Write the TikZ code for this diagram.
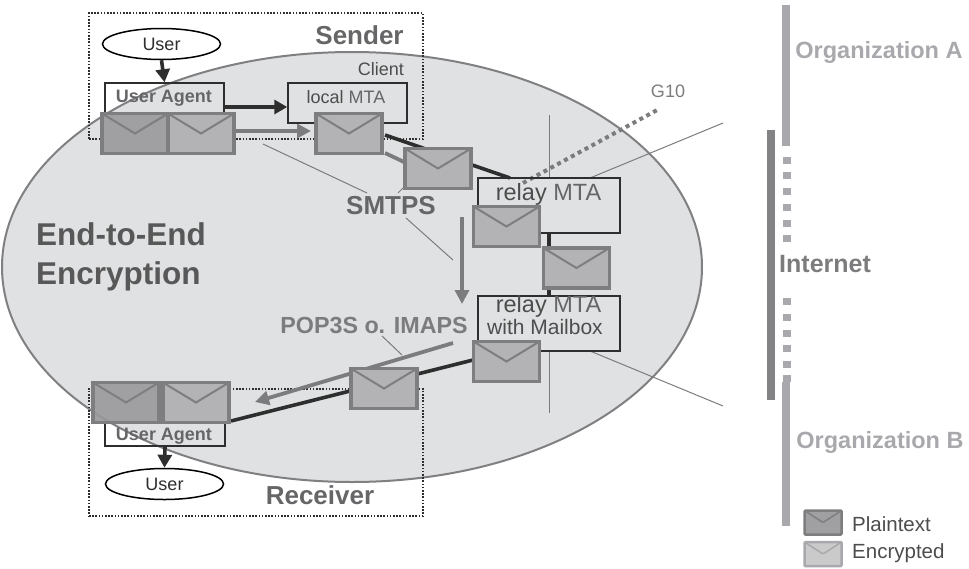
\documentclass[tikz,border=0pt]{standalone}
\usepackage{fontspec}
\setmainfont{Liberation Sans}
\usetikzlibrary{arrows.meta,shapes.geometric}
\pgfdeclarelayer{back}
\pgfdeclarelayer{wires}
\pgfsetlayers{back,wires,main}
\definecolor{ell}{HTML}{E0E1E2}
\definecolor{ellb}{HTML}{808082}
\definecolor{encf}{HTML}{B3B3B5}
\definecolor{plainf}{HTML}{A0A0A2}
\definecolor{envb}{HTML}{7E7E80}
\definecolor{dark}{HTML}{2E2E2E}
\definecolor{midg}{HTML}{7C7C7E}
\definecolor{orgc}{HTML}{A9A9AD}
\definecolor{txtg}{HTML}{666668}
\newcommand{\fs}[1]{\fontsize{#1}{#1}\selectfont}
\tikzset{
  x=1pt,y=-1pt,
  envbase/.style={draw=envb,line width=3.5pt,inner sep=0pt,minimum width=66pt,minimum height=40pt,
    path picture={\draw[envb,line width=2pt] (path picture bounding box.north west)--(path picture bounding box.center)--(path picture bounding box.north east);}},
  envenc/.style={envbase,fill=encf},
  envplain/.style={envbase,fill=plainf},
  legplain/.style={draw=envb,fill=plainf,line width=2.5pt,inner sep=0pt,minimum width=37pt,minimum height=24pt,rounded corners=1pt,
    path picture={\draw[envb,line width=1.5pt] (path picture bounding box.north west)--(path picture bounding box.center)--(path picture bounding box.north east);}},
  legenc/.style={draw=orgc,fill=encf!70!white,line width=2.5pt,inner sep=0pt,minimum width=37pt,minimum height=24pt,rounded corners=1pt,
    path picture={\draw[orgc,line width=1.5pt] (path picture bounding box.north west)--(path picture bounding box.center)--(path picture bounding box.north east);}},
  box/.style={draw=dark,line width=1.5pt,inner sep=0pt},
  userell/.style={ellipse,draw=black,line width=1.5pt,fill=white,inner sep=0pt,minimum width=118pt,minimum height=31pt,font=\fs{18},text=dark},
  dotbox/.style={draw=dark,line width=1.6pt,dash pattern=on 1.6pt off 1.6pt,inner sep=0pt},
  bigt/.style={font=\bfseries\fs{26},text=txtg,inner sep=0pt},
  orgt/.style={font=\bfseries\fs{23.5},text=orgc,inner sep=0pt},
  uat/.style={font=\bfseries\fs{18},text=txtg,inner sep=0pt},
  reg/.style={text=dark!85!white,inner sep=0pt},
  darkarrow/.style={draw=dark,line width=3.6pt,-{Triangle[length=13pt,width=14pt]}},
  grayarrow/.style={draw=midg,line width=3.8pt,-{Triangle[length=14pt,width=14pt]}},
  darkline/.style={draw=dark,line width=3.6pt},
  grayline/.style={draw=midg,line width=3.8pt},
  thin/.style={draw=midg,line width=1pt},
  orgbar/.style={fill=orgc,draw=none,inner sep=0pt,minimum width=8pt},
  sq/.style={fill=orgc,draw=none,inner sep=0pt,minimum width=8pt,minimum height=7pt},
}
\begin{document}
\begin{tikzpicture}
\useasboundingbox (0,0) rectangle (969,568);
\begin{pgfonlayer}{back}
\node[ellipse,draw=ellb,fill=ell,line width=2pt,inner sep=0pt,minimum width=700pt,minimum height=430pt] (cloud) at (352,267) {};
\node[dotbox,minimum width=334pt,minimum height=126pt] (senderzone) at (256,76) {};
\node[dotbox,minimum width=334pt,minimum height=127pt] (receiverzone) at (256,452.5) {};
\end{pgfonlayer}
% sender
\node[userell] (user1) at (161.5,44) {User};
\node[box,minimum width=119pt,minimum height=42pt] (ua1) at (164.5,104) {};
\node[uat] (ua1t) at (164,98) {User Agent};
\node[box,minimum width=119pt,minimum height=40pt] (lmta) at (347.5,103) {};
\node[reg,font=\fs{18}] (lmtat) at (346,97) {local \textcolor{txtg}{MTA}};
\node[reg,font=\fs{18}] (client) at (381,69) {Client};
\node[bigt] (sender) at (359.5,35) {Sender};
\node[bigt] (receiver) at (320,495) {Receiver};
% relays
\node[box,minimum width=142pt,minimum height=55pt] (r1) at (549,205.5) {};
\node[reg,font=\fs{23.5}] (r1t) at (548.5,194) {relay \textcolor{txtg}{MTA}};
\node[box,minimum width=142pt,minimum height=55pt] (r2) at (549,323.5) {};
\node[reg,font=\fs{23.5}] (r2t) at (548.5,306) {relay \textcolor{txtg}{MTA}};
\node[reg,font=\fs{21}] (r2m) at (545,327) {with Mailbox};
% receiver
\node[box,minimum width=120pt,minimum height=36pt] (ua2) at (165,428) {};
\node[uat] (ua2t) at (164,436) {User Agent};
\node[userell] (user2) at (164.5,484) {User};
% texts
\node[font=\bfseries\fs{31.5},text=dark!80!white,inner sep=0pt,anchor=west,align=left] (e2e) at (36,257) {End-to-End\\[7pt]Encryption};
\node[bigt] (smtps) at (391,206) {SMTPS};
\node[font=\bfseries\fs{23.3},text=midg,inner sep=0pt] (pop) at (374,325) {POP3S o. IMAPS};
\node[font=\fs{18},text=midg,inner sep=0pt] (g10) at (668,91) {G10};
% envelopes
\node[envplain] (e1) at (135,133.5) {};
\node[envenc] (e2) at (201,133.5) {};
\node[envenc] (e3) at (349,133.5) {};
\node[envenc] (e4) at (438,168.5) {};
\node[envenc] (e5) at (506.5,226.5) {};
\node[envenc] (e6) at (576.5,268) {};
\node[envenc] (e7) at (506.5,361.5) {};
\node[envenc] (e8) at (384,388.5) {};
\node[envplain] (e9) at (126,402.5) {};
\node[envenc] (e10) at (196,402.5) {};
% faint cloud outline seen through the plaintext envelopes
\begin{scope}
\clip (e9.south west) rectangle (e9.north east);
\draw[ellb,opacity=.3,line width=2pt] (cloud.center) ellipse [x radius=350,y radius=215];
\end{scope}
\begin{scope}
\clip (e1.south west) rectangle (e1.north east);
\draw[ellb,opacity=.3,line width=2pt] (cloud.center) ellipse [x radius=350,y radius=215];
\end{scope}
% legend
\node[legplain] (lp) at (823,522.5) {};
\node[legenc] (le) at (823,554) {};
\node[reg,font=\fs{20.5},anchor=west] (lpt) at (852,524) {Plaintext};
\node[reg,font=\fs{20.5},anchor=west] (let) at (852,553) {Encrypted};
% right column
\node[orgbar,minimum height=141pt] (orga) at (786,75.5) {};
\node[orgbar,minimum height=144pt] (orgb) at (786,454) {};
\node[orgbar,fill=midg!85!orgc,minimum height=270pt] (inet) at (771,265) {};
\node[orgt] (orgat) at (879,52.5) {Organization A};
\node[orgt] (orgbt) at (880,442.5) {Organization B};
\node[font=\bfseries\fs{25},text=midg,inner sep=0pt,anchor=west] (inett) at (779,264.5) {Internet};
\foreach \n/\yy in {a/160,b/175.5,c/191,d/207,e/223,f/238}{\node[sq] (sqa\n) at (787,\yy) {};}
\foreach \n/\yy in {a/301,b/317,c/333,d/348,e/364,f/378.5}{\node[sq] (sqb\n) at (786.5,\yy) {};}
% free ends
\coordinate (a1) at (235,131);
\coordinate (a2) at (311,131);
\coordinate (d1) at (385,135);
\coordinate (d2) at (510,178);
\coordinate (g1) at (385,153);
\coordinate (g2) at (404,162);
\coordinate (v1) at (549,115);
\coordinate (v2) at (549,413);
\coordinate (n1) at (590,178);
\coordinate (n2) at (723,123);
\coordinate (n3) at (590,351);
\coordinate (n4) at (723,406);
\coordinate (s1) at (263,144);
\coordinate (s2) at (367,193);
\coordinate (s3) at (398,193);
\coordinate (s4) at (404,187);
\coordinate (s5) at (406,218);
\coordinate (s6) at (453,260);
\coordinate (t1) at (462,217);
\coordinate (t2) at (462,304);
\coordinate (p1) at (453,343);
\coordinate (p2) at (255,402);
\coordinate (p3) at (382,336);
\coordinate (p4) at (402,355);
\coordinate (k1) at (231,421);
\coordinate (k2) at (473,360);
\coordinate (z1) at (523,183);
\coordinate (z2) at (659,109);
\begin{pgfonlayer}{wires}
\draw[thin] (v1) -- (r1.north);
\draw[thin] (r2.south) -- (v2);
\draw[thin] (n1) -- (n2);
\draw[thin] (n3) -- (n4);
\draw[thin] (s1) -- (s2);
\draw[thin] (s3) -- (s4);
\draw[thin] (s5) -- (s6);
\draw[thin] (p3) -- (p4);
\draw[darkline] (d1) -- (d2);
\draw[grayline] (g1) -- (g2);
\draw[darkline] (r1.south) -- (r2.north);
\draw[darkline] (k1) -- (k2);
\draw[midg,line width=4pt,dash pattern=on 4pt off 3.8pt] (z1) -- (z2);
\draw[darkarrow] (user1.south) -- (ua1.north);
\draw[darkarrow] (ua2.south) -- (user2.north);
\draw[darkarrow] (ua1.east |- 0,107) -- (lmta.west |- 0,107);
\draw[grayarrow] (a1) -- (a2);
\draw[grayarrow] (t1) -- (t2);
\draw[grayarrow] (p1) -- (p2);
\end{pgfonlayer}
\end{tikzpicture}
\end{document}
